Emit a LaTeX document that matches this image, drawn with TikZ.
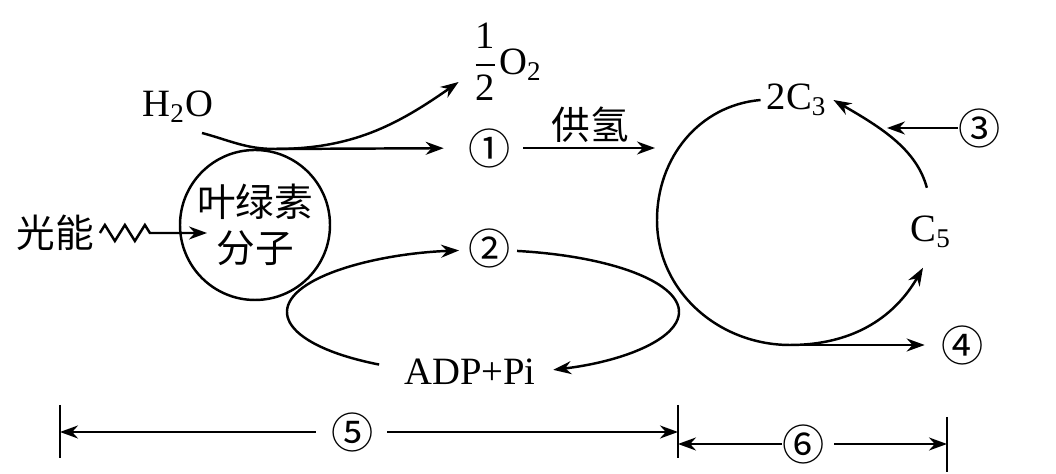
\documentclass[tikz,border=0pt]{standalone}
\usepackage{amsmath}
\usepackage{fontspec}
\setmainfont{Liberation Serif}
\newfontfamily\cjk{Noto Sans CJK SC}
\usepackage{tikz}
\usetikzlibrary{
arrows.meta,
positioning,
decorations.pathmorphing
}

\begin{document}
\begin{tikzpicture}[
    x=1cm,
    y=1cm,
    line width=0.7pt,
    font=\fontsize{11}{13}\selectfont,
    arr/.style={-{Stealth[length=1.8mm,width=1.3mm]}},
    num/.style={font=\cjk\fontsize{12}{12}\selectfont, inner sep=0pt},
    zh/.style={font=\cjk\fontsize{11}{13}\selectfont}
]

% Frame
\useasboundingbox (0,0) rectangle (10.56,4.74);

% Chlorophyll and light
\node[
    zh,
    draw,
    circle,
    minimum size=1.5cm,
    inner sep=0pt,
    align=center
] (chl) at (2.55,2.49) {叶绿素\\分子};

\node[zh, inner sep=0.5mm] (light) at (0.55,2.41) {光能};
\coordinate (lt) at (2.07,2.41);

\draw[
    arr,
    decorate,
    decoration={zigzag, segment length=2mm, amplitude=0.8mm,
        post=lineto, post length=5mm}
]
(light.east) -- (lt);

% Water splitting
\node (h2o) at (1.78,3.67) {H\textsubscript{2}O};
\node (o2) at (5.07,4.12) {$\dfrac{\text{1}}{\text{2}}$O\textsubscript{2}};
\node[num] (n1) at (4.90,3.26) {①};
\node[zh] (hy) at (5.90,3.49) {供氢};

\coordinate (ws) at (2.02,3.41);
\coordinate (wt) at (2.75,3.25);
\coordinate (cin) at (6.55,3.26);

\draw[arr] (ws) to[out=-15,in=180] (wt) to[out=0,in=-145] ([yshift=-2mm]o2.west);
\draw[arr, shorten >=2.4mm] (wt) -- (n1);
\draw[arr, shorten <=1.1mm] (n1) -- (cin);

% ATP cycle
\node[num] (n2) at (4.90,2.26) {②};
\node (adp) at (4.70,1.02) {ADP+Pi};

\coordinate (ec) at (4.83,1.62);

\draw[arr]
([shift={(238:1.96 and 0.62)}]ec)
arc[start angle=238, end angle=97, x radius=1.96, y radius=0.62];
\draw[arr]
([shift={(80:1.96 and 0.62)}]ec)
arc[start angle=80, end angle=-69, x radius=1.96, y radius=0.62];

% Calvin cycle
\node[inner sep=0.5mm] (c3) at (7.97,3.74) {2C\textsubscript{3}};
\node (c5) at (9.31,2.42) {C\textsubscript{5}};
\node[num] (n3) at (9.80,3.46) {③};
\node[num] (n4) at (9.63,1.29) {④};

\coordinate (cl) at (6.57,2.54);
\coordinate (cb) at (7.90,1.29);
\coordinate (c3in) at (8.87,3.46);

\draw[arr]
(c3.west) to[out=185,in=90] (cl) to[out=-90,in=180] (cb)
to[out=0,in=-120] ([shift={(-0.08,-0.07)}]c5.south);
\draw[arr, shorten <=1.6mm] (c5.north) to[out=105,in=-30] (c3.east);
\draw[arr] (n3) -- (c3in);
\draw[arr, shorten >=1.6mm] (cb) -- (n4);

% Stage brackets
\coordinate (dA) at (0.60,0.69);
\coordinate (dB) at (6.78,0.69);
\coordinate (dC) at (9.47,0.57);

\draw (dA) -- ++(0,-0.53);
\draw (dB) -- ++(0,-0.53);
\draw (dC) -- ++(0,-0.55);

\node[num] (n5) at (3.53,0.42) {⑤};
\node[num] (n6) at (8.04,0.30) {⑥};

\draw[arr, shorten <=1.5mm] (n5) -- (n5 -| dA);
\draw[arr, shorten <=1.2mm] (n5) -- (n5 -| dB);
\draw[arr] (n6) -- (n6 -| dB);
\draw[arr, shorten <=0.8mm] (n6) -- (n6 -| dC);

\end{tikzpicture}
\end{document}
